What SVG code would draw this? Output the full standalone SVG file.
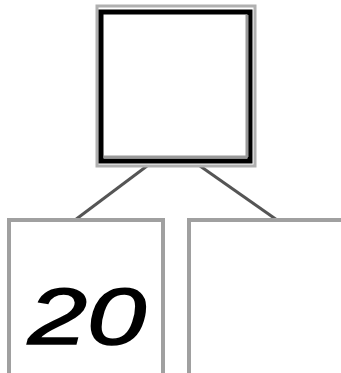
<svg xmlns="http://www.w3.org/2000/svg" width="341" height="373" viewBox="0 0 341 373">
<style>
.shadow{fill:none;stroke:#aaaaaa;stroke-width:6}
.box{fill:#ffffff;stroke:#a0a0a0;stroke-width:4}
.link{stroke:#555555;stroke-width:3;fill:none}
.num{font-family:"Liberation Sans",Arial,sans-serif;font-size:80px;font-style:italic;fill:#000;stroke:#000;stroke-width:1.5}
</style>
<rect width="341" height="373" fill="#ffffff"/>
<g id="connectors">
<line class="link" x1="147" y1="166" x2="75" y2="220"/>
<line class="link" x1="200" y1="166" x2="277" y2="220"/>
</g>
<g id="root">
<rect x="97" y="6" width="158" height="160" fill="none" stroke="#b0b0b0" stroke-width="3"/>
<rect x="101" y="12" width="149" height="149" fill="#ffffff" stroke="#000000" stroke-width="5"/>
<line x1="104" y1="157" x2="247" y2="157" stroke="#999" stroke-width="3"/>
<line x1="247" y1="15" x2="247" y2="157" stroke="#999" stroke-width="3"/>
</g>
<g id="left">
<rect class="box" x="9" y="220" width="154" height="160"/>
<text class="num" x="28" y="344" textLength="118" lengthAdjust="spacingAndGlyphs">20</text>
</g>
<g id="right">
<rect class="box" x="189" y="220" width="154" height="160"/>
</g>
</svg>
